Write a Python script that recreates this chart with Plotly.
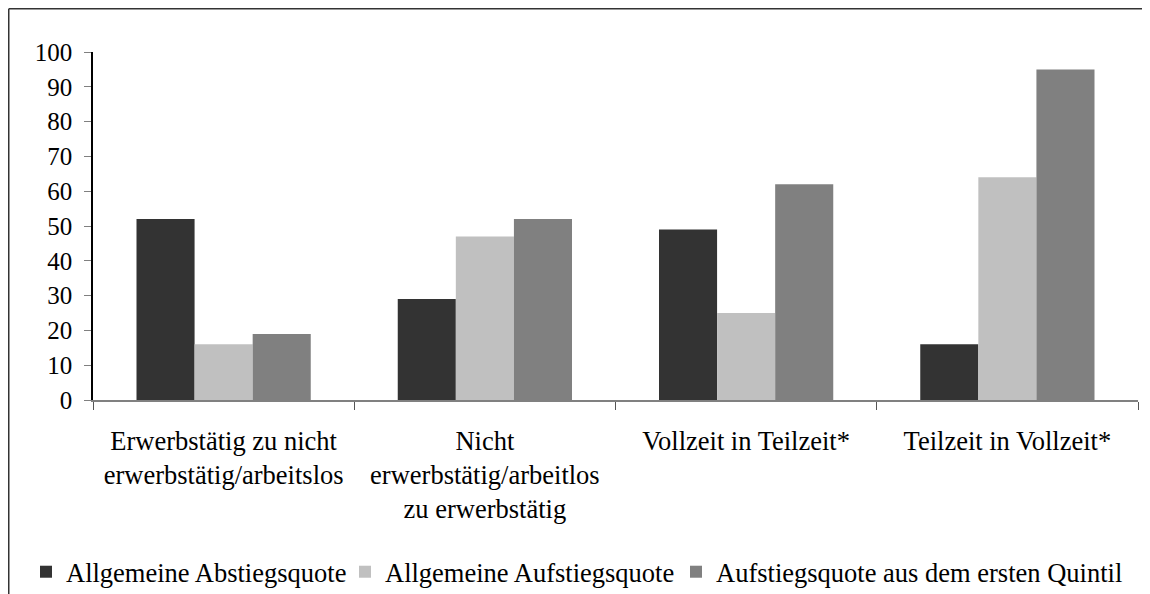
import plotly.graph_objects as go

categories = [
    "Erwerbstätig zu nicht<br>erwerbstätig/arbeitslos",
    "Nicht<br>erwerbstätig/arbeitlos<br>zu erwerbstätig",
    "Vollzeit in Teilzeit*",
    "Teilzeit in Vollzeit*",
]
series_names = [
    "Allgemeine Abstiegsquote",
    "Allgemeine Aufstiegsquote",
    "Aufstiegsquote aus dem ersten Quintil",
]
abstieg = [52, 29, 49, 16]
aufstieg = [16, 47, 25, 64]
aufstieg_q1 = [19, 52, 62, 95]
y_ticks = [0, 10, 20, 30, 40, 50, 60, 70, 80, 90, 100]

colors = ["#333333", "#C0C0C0", "#808080"]
legend_ids = ["legend", "legend2", "legend3"]
FONT = "Liberation Serif"
FS = 26.5

fig = go.Figure()
for name, vals, col, lg in zip(series_names, [abstieg, aufstieg, aufstieg_q1], colors, legend_ids):
    fig.add_trace(go.Bar(x=categories, y=vals, name=name, marker_color=col,
                         marker_line_width=0, legend=lg))

# page is offset by 8px body margin; coordinates below are figure pixels
W, H = 1150, 594
L, R, T, B = 85, 20, 44, 202
pw, ph = W - L - R, H - T - B

def px_x(px):
    return (px - L) / pw

def px_y(py):
    return (H - B - py) / ph

def legend_at(text_start_px):
    return dict(orientation="h", x=px_x(text_start_px - 40), y=px_y(564),
                xanchor="left", yanchor="middle",
                font=dict(family=FONT, size=FS, color="black"),
                itemwidth=30, bgcolor="rgba(0,0,0,0)", borderwidth=0)

fig.update_layout(
    width=W, height=H,
    margin=dict(l=L, r=R, t=T, b=B, pad=0, autoexpand=False),
    paper_bgcolor="white", plot_bgcolor="white",
    font=dict(family=FONT, size=FS, color="black"),
    barmode="group", bargap=0.333, bargroupgap=0,
    showlegend=True,
    legend=legend_at(58),
    legend2=legend_at(377),
    legend3=legend_at(708),
    xaxis=dict(type="category", showline=True, linecolor="#808080", linewidth=1.5,
               ticks="outside", tickson="boundaries", ticklen=8, tickcolor="#555555",
               tickfont=dict(family=FONT, size=FS, color="black"),
               ticklabelstandoff=16, automargin=False,
               showgrid=False, zeroline=False),
    yaxis=dict(range=[0, 100], tickvals=y_ticks, showline=True, linecolor="black",
               linewidth=1.5, ticks="outside", ticklen=7, tickcolor="#808080",
               tickfont=dict(family=FONT, size=25, color="black"),
               ticklabelstandoff=7, automargin=False,
               showgrid=False, zeroline=False),
    shapes=[
        dict(type="line", xref="paper", yref="paper",
             x0=px_x(0.75), x1=px_x(0.75), y0=px_y(0.75), y1=px_y(H + 10),
             line=dict(color="#333333", width=1.5)),
        dict(type="line", xref="paper", yref="paper",
             x0=px_x(0.75), x1=px_x(W + 10), y0=px_y(0.75), y1=px_y(0.75),
             line=dict(color="#333333", width=1.5)),
    ],
)

fig.write_html("out.html")
